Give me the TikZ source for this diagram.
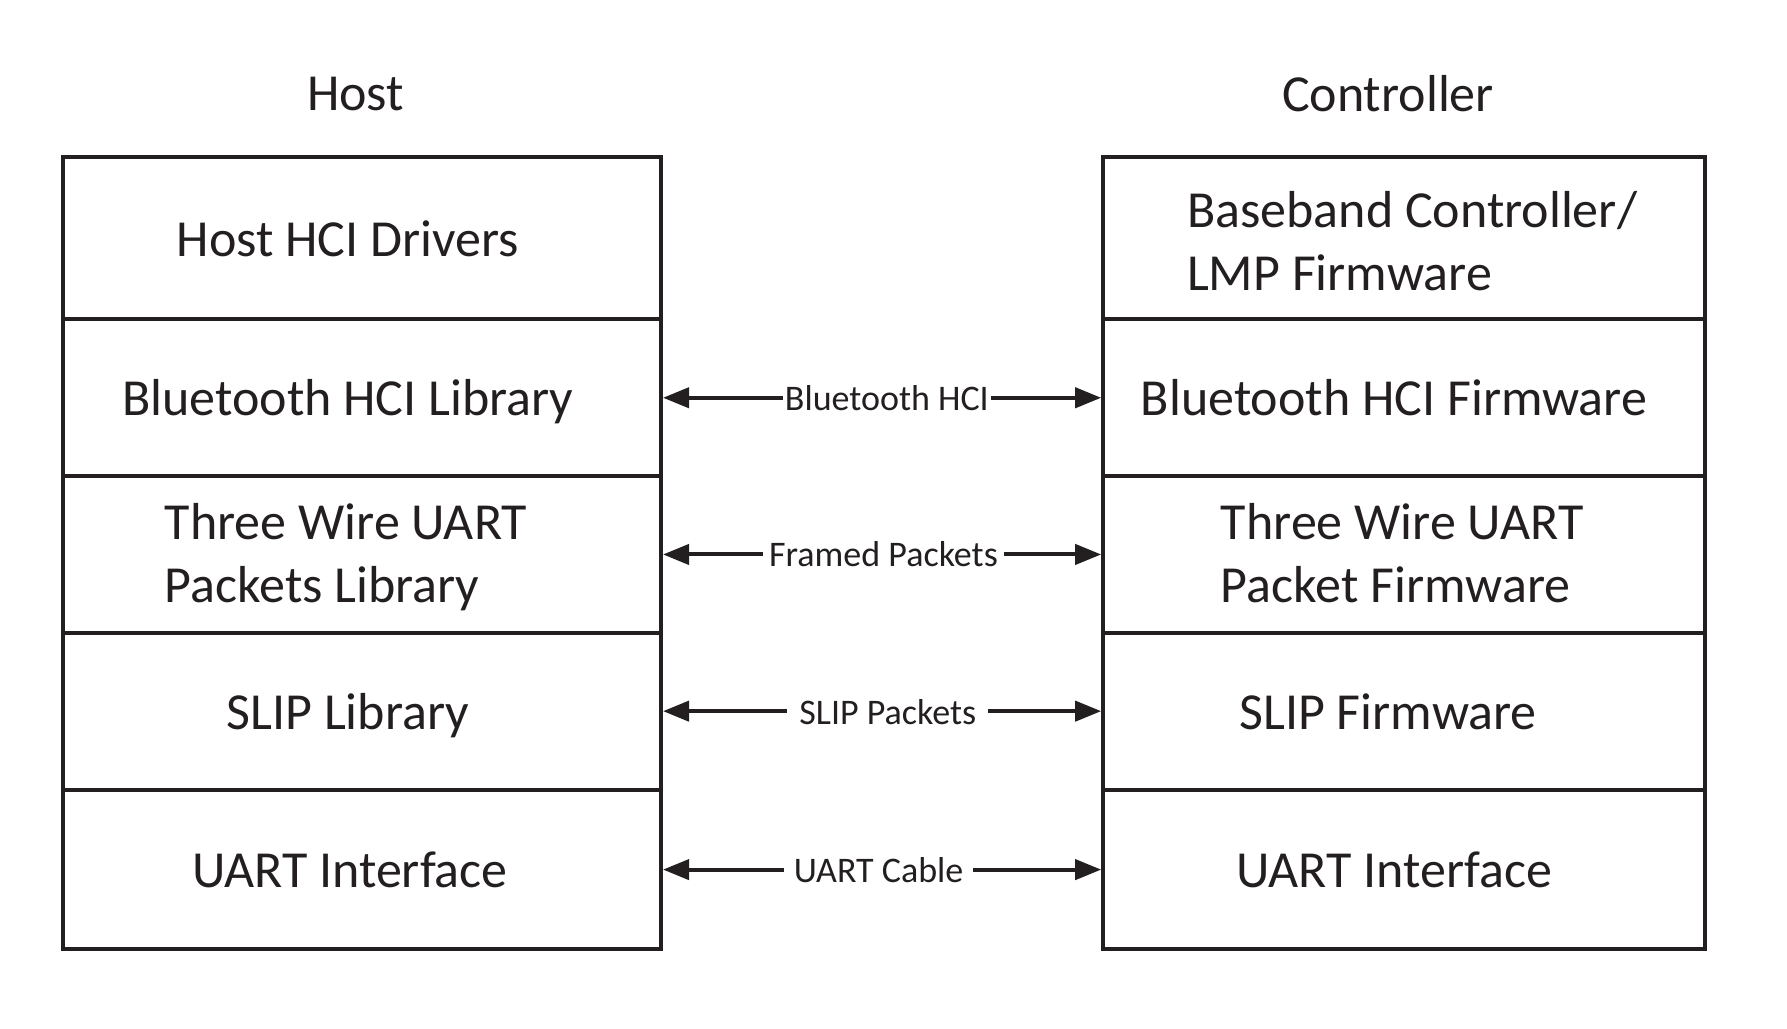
\documentclass[tikz,border=0pt]{standalone}
\usepackage{fontspec}
\setmainfont{Carlito}
\usetikzlibrary{arrows.meta}
\definecolor{ink}{RGB}{35,31,32}
\begin{document}
\begin{tikzpicture}[x=0.5pt,y=-0.5pt,
  lrow/.style={draw=ink, line width=2pt, minimum width=299.15pt, inner sep=0pt, outer sep=1pt},
  rrow/.style={draw=ink, line width=2pt, minimum width=300.9pt, inner sep=0pt, outer sep=1pt},
  btxt/.style={font=\fontsize{26}{31.5}\selectfont, text=ink, align=left, text depth=0pt, inner sep=0pt},
  title/.style={font=\fontsize{26}{31.5}\selectfont, text=ink, text depth=0pt},
  arr/.style={{Triangle[length=13pt,width=10pt]}-{Triangle[length=13pt,width=10pt]}, line width=2pt, draw=ink},
  lbl/.style={fill=white, font=\fontsize{18}{21}\selectfont, text=ink, inner ysep=1pt, text depth=0pt}]
\useasboundingbox (0,0) rectangle (1787,1028);
\node[title] (th) at (355.6,93.5) {Host};
\node[title] (tc) at (1388,93.5) {Controller};
% host rows
\node[lrow, minimum height=80.9pt, label={[btxt, xshift=-7pt]center:Host HCI Drivers}] (h1) at (361.85,238.2) {};
\node[lrow, minimum height=78.65pt, label={[btxt, xshift=-7pt]center:Bluetooth HCI Library}] (h2) at (361.85,397.75) {};
\node[lrow, minimum height=78.05pt, label={[btxt, xshift=-8pt, yshift=1pt]center:Three Wire UART\\Packets Library}] (h3) at (361.85,554.45) {};
\node[lrow, minimum height=78.65pt, label={[btxt, xshift=-7pt]center:SLIP Library}] (h4) at (361.85,711.15) {};
\node[lrow, minimum height=79.8pt, label={[btxt, xshift=-6pt]center:UART Interface}] (h5) at (361.85,869.6) {};
% controller rows
\node[rrow, minimum height=80.9pt, label={[btxt, xshift=4pt, yshift=-1.5pt]center:Baseband Controller/\\LMP Firmware}] (c1) at (1404.1,238.2) {};
\node[rrow, minimum height=78.65pt, label={[btxt, xshift=-5pt]center:Bluetooth HCI Firmware}] (c2) at (1404.1,397.75) {};
\node[rrow, minimum height=78.05pt, label={[btxt, xshift=-1pt, yshift=1pt]center:Three Wire UART\\Packet Firmware}] (c3) at (1404.1,554.45) {};
\node[rrow, minimum height=78.65pt, label={[btxt, xshift=-8pt]center:SLIP Firmware}] (c4) at (1404.1,711.15) {};
\node[rrow, minimum height=79.8pt, label={[btxt, xshift=-5pt]center:UART Interface}] (c5) at (1404.1,869.6) {};
% connectors
\draw[arr] (h2.east) -- node[lbl, pos=0.511, inner xsep=1pt] {Bluetooth HCI} (c2.west);
\draw[arr] (h3.east) -- node[lbl, pos=0.503, inner xsep=3pt] {Framed Packets} (c3.west);
\draw[arr] (h4.east) -- node[lbl, pos=0.513, inner xsep=6pt, yshift=-0.5pt] {SLIP Packets} (c4.west);
\draw[arr] (h5.east) -- node[lbl, pos=0.492, inner xsep=5pt] {UART Cable} (c5.west);
\end{tikzpicture}
\end{document}
